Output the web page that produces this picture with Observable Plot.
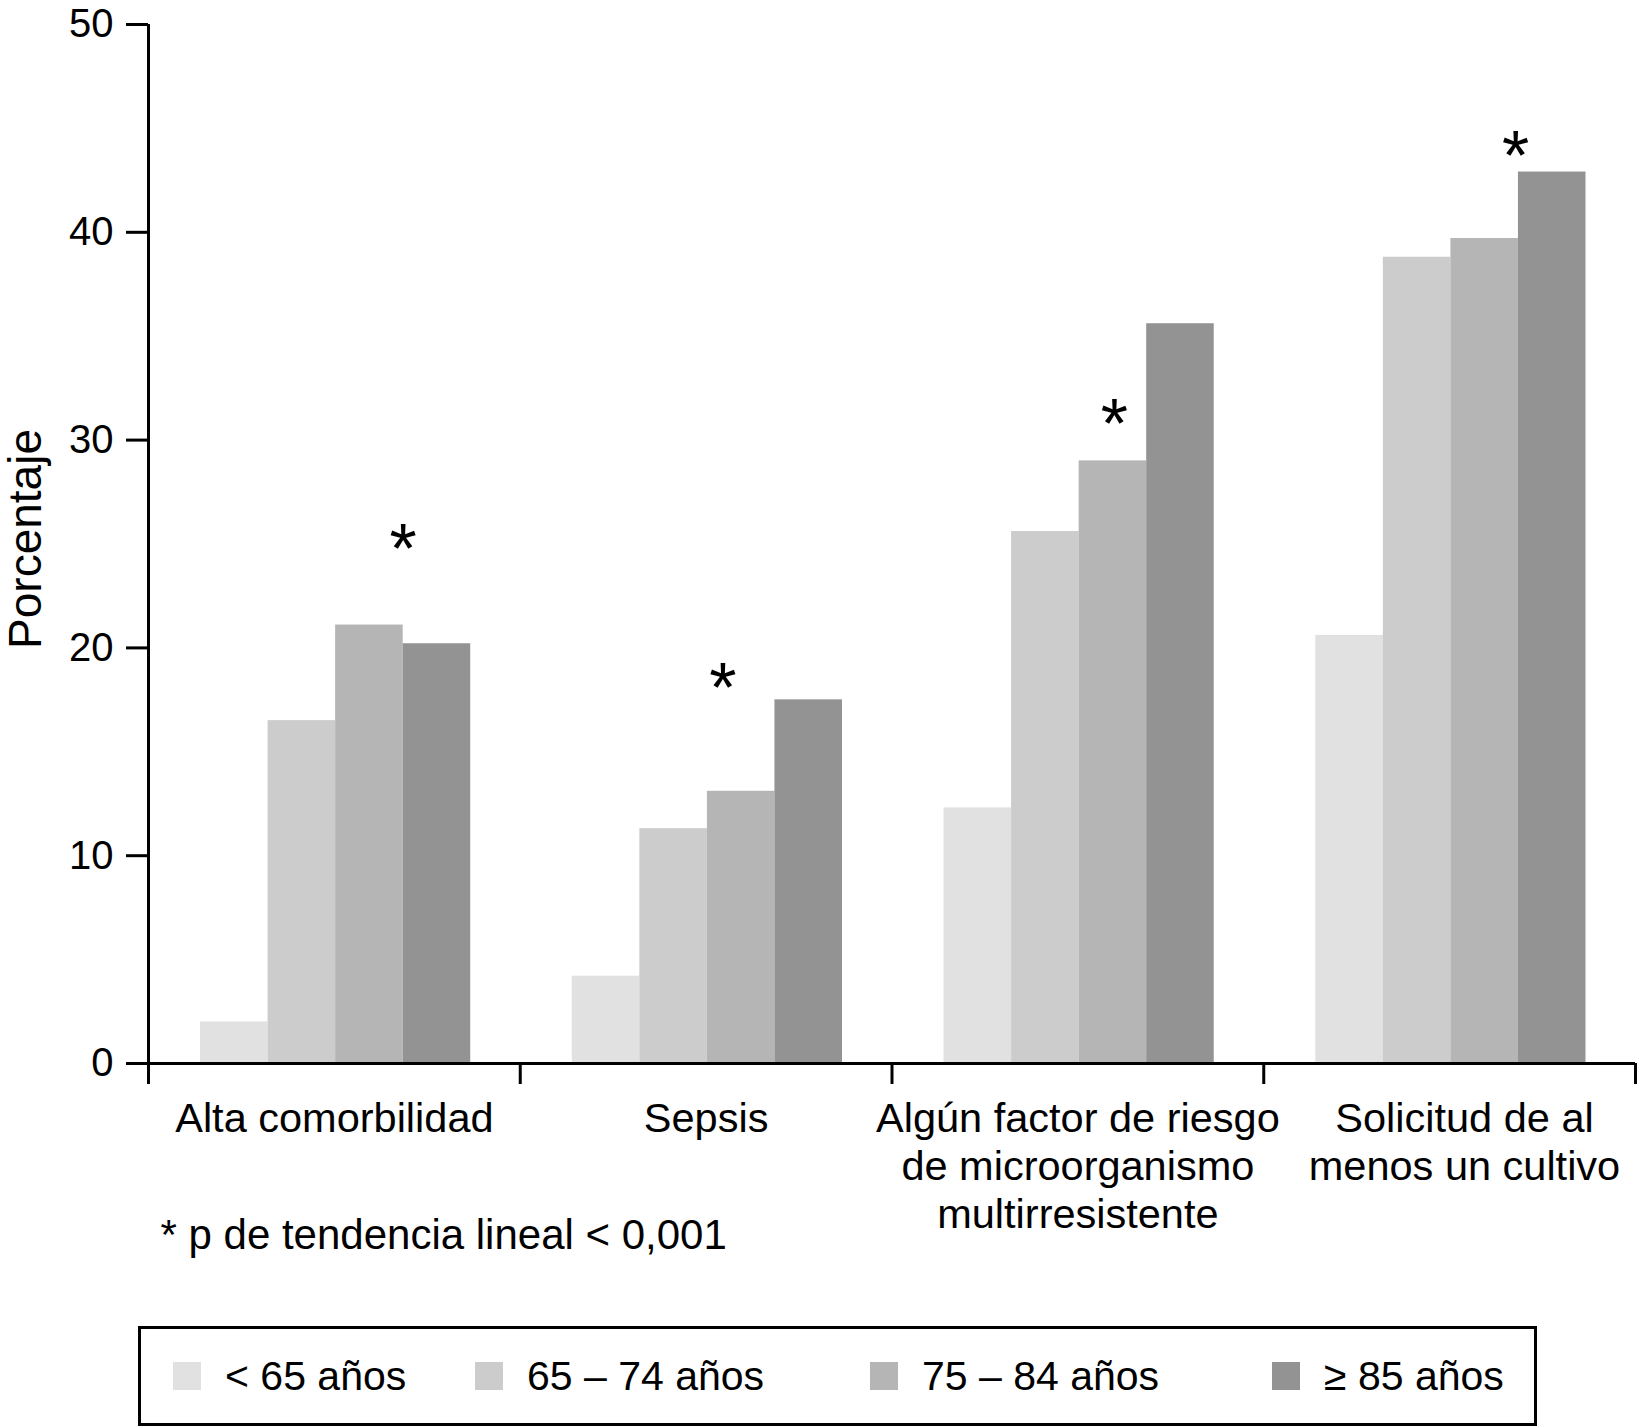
<!DOCTYPE html>
<html>
<head>
<meta charset="utf-8">
<script src="https://cdn.jsdelivr.net/npm/d3@7"></script>
<script src="https://cdn.jsdelivr.net/npm/@observablehq/plot@0.6"></script>
<style>
  body { margin: 0; background: #fff; font-family: "Liberation Sans", Arial, Helvetica, sans-serif; }
  #legend {
    box-sizing: border-box; margin-left: 138px; margin-top: 26px; width: 1399px; height: 100px;
    border: 3px solid #000; display: grid; grid-template-columns: 302px 395px 402px auto;
    align-items: center; padding-left: 32px;
  }
  .item { display: flex; align-items: center; font-size: 41px; color: #000; white-space: nowrap; }
  .sw { width: 28px; height: 28px; margin-right: 24px; flex: none; }
</style>
</head>
<body>
<div id="chart"></div>
<div id="legend"></div>
<script>
// ---- data ----
const categories = [
  "Alta comorbilidad",
  "Sepsis",
  "Algún factor de riesgo\nde microorganismo\nmultirresistente",
  "Solicitud de al\nmenos un cultivo"
];
const ageGroups = ["< 65 años", "65 – 74 años", "75 – 84 años", "≥ 85 años"];
const under65   = [2.0, 4.2, 12.3, 20.6];
const age65to74 = [16.5, 11.3, 25.6, 38.8];
const age75to84 = [21.1, 13.1, 29.0, 39.7];
const age85plus = [20.2, 17.5, 35.6, 42.9];
const yTicks = [0, 10, 20, 30, 40, 50];
const starLevel = [25.5, 18.8, 31.5, 44.4];      // height (in %) of the significance asterisk
const starOverBar = [3.0, 2.23, 2.52, 2.96];     // asterisk anchor, in bar widths from the group's first bar
const footnote = "* p de tendencia lineal < 0,001";
const colors = ["#e1e1e1", "#cccccc", "#b5b5b5", "#939393"];

// ---- layout of groups along a linear x (each category spans one unit) ----
const series = [under65, age65to74, age75to84, age85plus];
const groupPad = 0.14, barW = 0.1817;
const labelShift = [0, 0, 0, 0.04];
const rows = categories.flatMap((c, ci) =>
  series.map((vals, si) => ({ci, si, group: ageGroups[si], value: vals[ci]}))
);
const stars = starLevel.map((v, ci) => ({ci, v, at: starOverBar[ci]}));

const chart = Plot.plot({
  width: 1637,
  height: 1300,
  marginLeft: 148,
  marginRight: 2,
  marginTop: 24,
  marginBottom: 237,
  style: {fontFamily: '"Liberation Sans", Arial, Helvetica, sans-serif', color: "#000", background: "#fff"},
  x: {domain: [0, categories.length]},
  y: {domain: [0, 50]},
  color: {domain: ageGroups, range: colors},
  marks: [
    Plot.rectY(rows, {
      x1: d => d.ci + groupPad + d.si * barW,
      x2: d => d.ci + groupPad + (d.si + 1) * barW,
      y1: 0, y2: "value", fill: "group"
    }),
    Plot.ruleX([0], {y1: 0, y2: 50, strokeWidth: 3}),
    Plot.ruleY([0], {strokeWidth: 3}),
    Plot.axisY({ticks: yTicks, tickSize: 22, tickPadding: 13, fontSize: 40, strokeWidth: 3, label: null}),
    Plot.axisX({ticks: d3.range(categories.length + 1), tickSize: 21, strokeWidth: 3, tickFormat: () => "", label: null}),
    Plot.text(categories, {
      x: (d, i) => i + 0.5 + labelShift[i], text: d => d, frameAnchor: "bottom", lineAnchor: "top",
      dy: 34, fontSize: 41.5, lineHeight: 1.16
    }),
    Plot.text(stars, {
      x: d => d.ci + groupPad + d.at * barW, y: "v", text: () => "*", fontSize: 70, dy: 17
    }),
    Plot.text([footnote], {
      text: d => d, frameAnchor: "bottom-left", textAnchor: "start", lineAnchor: "bottom",
      dx: 12, dy: 185, fontSize: 42
    }),
    Plot.text(["Porcentaje"], {
      text: d => d, frameAnchor: "left", textAnchor: "middle", rotate: -90, dx: -122, dy: -5, fontSize: 46
    })
  ]
});
document.getElementById("chart").append(chart);

// ---- legend ----
const legend = document.getElementById("legend");
ageGroups.forEach((g, i) => {
  const item = document.createElement("div");
  item.className = "item";
  const sw = document.createElement("span");
  sw.className = "sw";
  sw.style.background = colors[i];
  const t = document.createElement("span");
  t.textContent = g;
  item.append(sw, t);
  legend.append(item);
});
</script>
</body>
</html>
